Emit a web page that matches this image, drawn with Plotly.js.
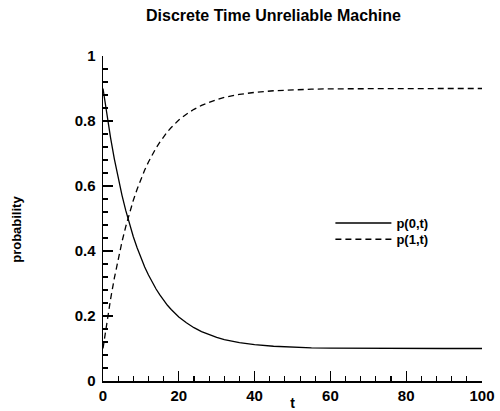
<!DOCTYPE html>
<html>
<head>
<meta charset="utf-8">
<script src="https://cdn.plot.ly/plotly-3.0.1.min.js"></script>
<style>html,body{margin:0;padding:0;background:#fff}#chart{width:500px;height:411px}</style>
</head>
<body>
<div id="chart"></div>
<script>
const chartTitle = "Discrete Time Unreliable Machine";
const xLabel = "t";
const yLabel = "probability";
const seriesNames = ["p(0,t)", "p(1,t)"];

const t = [0,1,2,3,4,5,6,7,8,9,10,11,12,13,14,15,16,17,18,19,20,22,24,26,28,30,32,34,36,38,40,45,50,55,60,70,80,90,100];
const p0 = [0.900,0.820,0.748,0.683,0.625,0.572,0.525,0.483,0.444,0.410,0.379,0.351,0.326,0.303,0.283,0.265,0.248,0.233,0.220,0.208,0.197,0.179,0.164,0.152,0.142,0.134,0.127,0.122,0.118,0.115,0.112,0.107,0.104,0.102,0.101,0.100,0.100,0.100,0.100];
const p1 = [0.100,0.180,0.252,0.317,0.375,0.428,0.475,0.517,0.556,0.590,0.621,0.649,0.674,0.697,0.717,0.735,0.752,0.767,0.780,0.792,0.803,0.821,0.836,0.848,0.858,0.866,0.873,0.878,0.882,0.885,0.888,0.893,0.896,0.898,0.899,0.900,0.900,0.900,0.900];

const fam = "Liberation Sans, Arial, sans-serif";
const traces = [
  {x: t, y: p0, name: seriesNames[0], mode: "lines", line: {color: "#000", width: 1.3}, legend: "legend"},
  {x: t, y: p1, name: seriesNames[1], mode: "lines", line: {color: "#000", width: 1.3, dash: "6px,4px"}, legend: "legend2"}
];
const axisCommon = {
  showline: true, linecolor: "#000", linewidth: 1.5, mirror: false,
  showgrid: false, zeroline: false,
  ticks: "inside", ticklen: 10, tickwidth: 1.3, tickcolor: "#000",
  tickfont: {family: fam, size: 15, color: "#000", weight: "bold"}
};
const legendCommon = {xanchor: "left", yanchor: "middle", bgcolor: "rgba(0,0,0,0)",
  itemwidth: 56, borderwidth: 0,
  font: {family: fam, size: 13, color: "#000", weight: "bold"}};
const layout = {
  width: 500, height: 411,
  margin: {l: 103, r: 18, t: 56, b: 30},
  paper_bgcolor: "#fff", plot_bgcolor: "#fff",
  title: {text: chartTitle, font: {family: fam, size: 16, color: "#000", weight: "bold"},
          x: 0.547, xanchor: "center", xref: "container", y: 0.963, yanchor: "middle", yref: "container"},
  xaxis: Object.assign({}, axisCommon, {
    range: [0, 100], dtick: 20, tick0: 0,
    minor: {dtick: 4, ticklen: 5, tickwidth: 1.1, tickcolor: "#000", ticks: "inside"},
    title: {text: xLabel, font: {family: fam, size: 14, color: "#000", weight: "bold"}, standoff: 0}
  }),
  yaxis: Object.assign({}, axisCommon, {
    range: [0, 1], dtick: 0.2, tick0: 0, ticklabelstandoff: 3,
    minor: {dtick: 0.04, ticklen: 5, tickwidth: 1.1, tickcolor: "#000", ticks: "inside"}
  }),
  annotations: [{text: yLabel, xref: "paper", yref: "paper", x: -0.228, y: 0.467,
                 xanchor: "center", yanchor: "middle", textangle: -90, showarrow: false,
                 font: {family: fam, size: 13, color: "#000", weight: "bold"}}],
  showlegend: true,
  legend: Object.assign({}, legendCommon, {x: 0.6, y: 0.486}),
  legend2: Object.assign({}, legendCommon, {x: 0.6, y: 0.436})
};
Plotly.newPlot("chart", traces, layout, {displayModeBar: false, staticPlot: true});
</script>
</body>
</html>
